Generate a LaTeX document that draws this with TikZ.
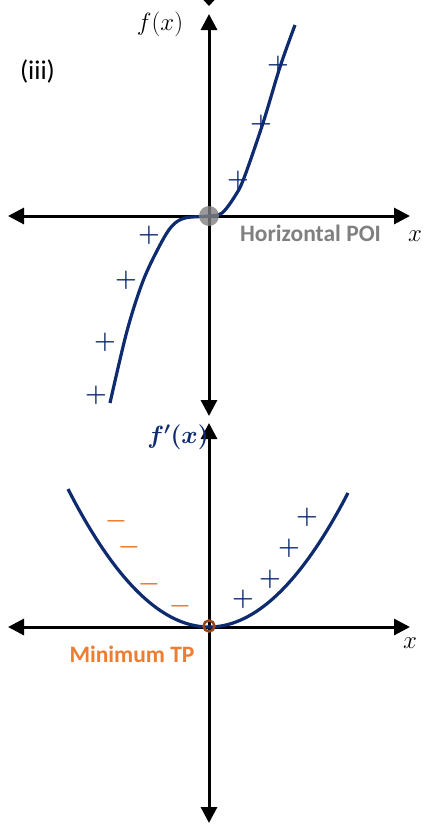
\documentclass[tikz,border=0pt]{standalone}
\usepackage{fontspec}
\setsansfont{Carlito}
\usepackage{bm}
\usetikzlibrary{arrows.meta}
\definecolor{navy}{HTML}{0D2B6E}
\definecolor{offorange}{HTML}{ED7D31}
\definecolor{tpbrown}{HTML}{9A4515}
\definecolor{poigray}{HTML}{808080}
\tikzset{
  axisboth/.style={line width=3pt, {Triangle[length=16pt,width=16pt]}-{Triangle[length=16pt,width=16pt]}},
  curve/.style={navy, line width=3.2pt},
  plussign/.style={navy, inner sep=0pt, font=\fontsize{24}{28}\selectfont},
  minussign/.style={offorange, inner sep=0pt, font=\fontsize{24}{28}\selectfont},
  lbl/.style={inner sep=0pt, font=\fontsize{25}{29}\selectfont},
  note/.style={inner sep=0pt, font=\sffamily\bfseries\fontsize{23.5}{28}\selectfont, anchor=base},
}
\begin{document}
\begin{tikzpicture}[x=1pt,y=-1pt]
\useasboundingbox (0,0) rectangle (427,825);
\fill[white] (0,0) rectangle (427,825);
% cut-off arrow at the very top
\fill (203.5,0) -- (214.5,0) -- (209,6) -- cycle;
% ---------- top graph ----------
\coordinate (tL) at (8,216);
\coordinate (tR) at (410,216);
\coordinate (tT) at (209,14);
\coordinate (tB) at (209,416);
\coordinate (tO) at (209,216);
\draw[axisboth] (tL) -- (tR);
\draw[axisboth] (tB) -- (tT);
\draw[curve] plot[smooth, tension=0.55] coordinates {(110,403) (127,331) (143,281) (160,245) (172,226) (185,218) (209,216) (222,213) (235,196) (244,178) (263,123) (280,67) (295,25)};
\fill[poigray, opacity=0.8] (tO) circle (10);
\node[lbl] (fx) at (160,24) {$f(x)$};
\node[lbl] (xt) at (415,236) {$x$};
\node[inner sep=0pt, font=\sffamily\fontsize{27}{31}\selectfont] (iii) at (37.5,71) {(iii)};
\node[note, poigray] (poi) at (310.5,241) {Horizontal POI};
\node[plussign] (p1) at (149,235) {$\bm{+}$};
\node[plussign] (p2) at (126,280) {$\bm{+}$};
\node[plussign] (p3) at (105,342) {$\bm{+}$};
\node[plussign] (p4) at (96,395) {$\bm{+}$};
\node[plussign] (p5) at (238,180) {$\bm{+}$};
\node[plussign] (p6) at (261,124) {$\bm{+}$};
\node[plussign] (p7) at (278,65) {$\bm{+}$};
% ---------- bottom graph ----------
\coordinate (bL) at (8,627);
\coordinate (bR) at (410,627);
\coordinate (bT) at (209,423);
\coordinate (bB) at (209,823);
\coordinate (bO) at (209,626);
\draw[axisboth] (bL) -- (bR);
\draw[axisboth] (bB) -- (bT);
\draw[curve] plot[domain=-14.1:13.9, samples=80] ({209+10*\x},{627-0.694*\x*\x});
\draw[tpbrown, line width=2.5pt] (bO) circle (5.5);
\node[lbl, navy] (dfx) at (178,437) {$\bm{f'(x)}$};
\node[lbl] (xb) at (410,643) {$x$};
\node[note, offorange] (mtp) at (132,662) {Minimum TP};
\node[minussign] (m1) at (116,521) {$\bm{-}$};
\node[minussign] (m2) at (129,547) {$\bm{-}$};
\node[minussign] (m3) at (149,584) {$\bm{-}$};
\node[minussign] (m4) at (180,606) {$\bm{-}$};
\node[plussign] (q1) at (243,599) {$\bm{+}$};
\node[plussign] (q2) at (270,579) {$\bm{+}$};
\node[plussign] (q3) at (289,548) {$\bm{+}$};
\node[plussign] (q4) at (307,517) {$\bm{+}$};
\end{tikzpicture}
\end{document}
